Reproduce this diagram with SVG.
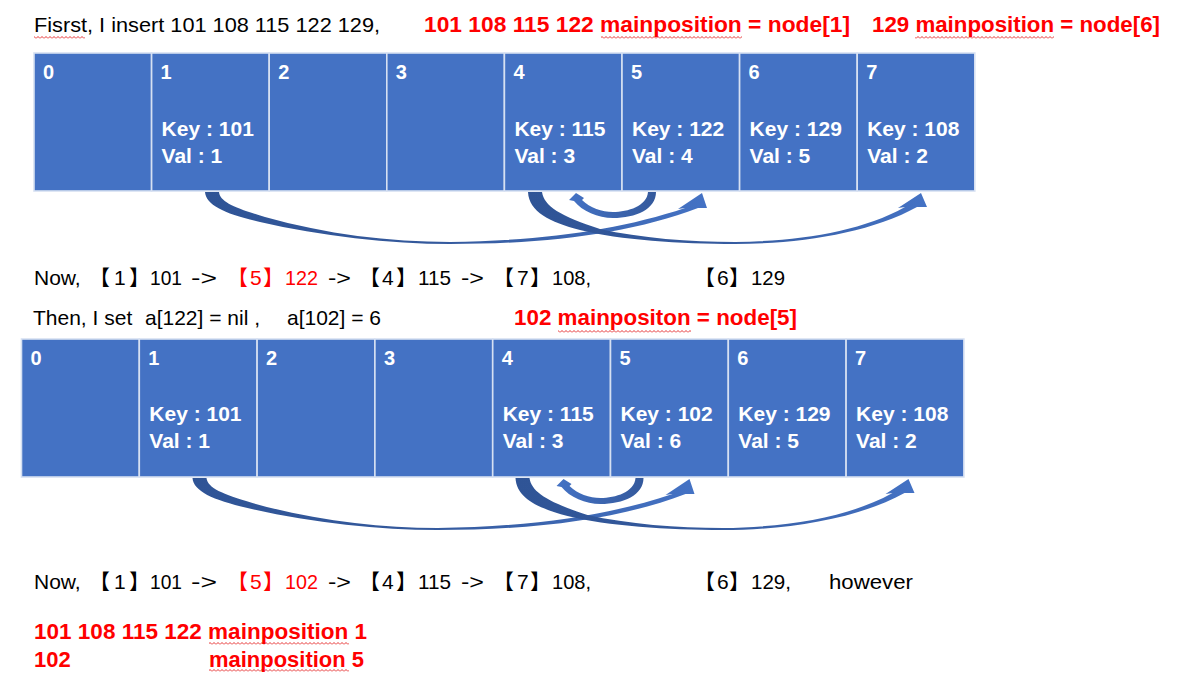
<svg xmlns="http://www.w3.org/2000/svg" width="1185" height="683" viewBox="0 0 1185 683">
<style>
.bg{fill:#ffffff}
.cell{fill:#4472C4;stroke:#D6E0F2;stroke-width:1.6}
.idx{font-family:"Liberation Sans",Arial,sans-serif;font-weight:bold;font-size:20px;fill:#ffffff}
.kv{font-family:"Liberation Sans",Arial,sans-serif;font-weight:bold;font-size:21px;fill:#ffffff}
.t{font-family:"Liberation Sans",Arial,"Noto Sans CJK SC",sans-serif;font-size:21px;fill:#000000}
.r{fill:#FF0000}
.rb{font-family:"Liberation Sans",Arial,sans-serif;font-weight:bold;font-size:22px;fill:#FF0000}
.cjk{font-family:"Noto Sans CJK SC",sans-serif}
.sq{fill:url(#squig)}
</style>
<defs>
<pattern id="squig" x="0" y="0" width="4" height="3" patternUnits="userSpaceOnUse">
<path d="M0,2.5 L2,0.5 L4,2.5" fill="none" stroke="#E00000" stroke-width="0.8"/>
</pattern>
<linearGradient id="gA" gradientUnits="userSpaceOnUse" x1="205" y1="0" x2="705" y2="0">
<stop offset="0" stop-color="#2F5496"/><stop offset="0.45" stop-color="#34599C"/><stop offset="1" stop-color="#4472C4"/>
</linearGradient>
<linearGradient id="gB" gradientUnits="userSpaceOnUse" x1="528" y1="0" x2="925" y2="0">
<stop offset="0" stop-color="#2F5496"/><stop offset="0.45" stop-color="#34599C"/><stop offset="1" stop-color="#4472C4"/>
</linearGradient>
<linearGradient id="gC" gradientUnits="userSpaceOnUse" x1="656" y1="0" x2="570" y2="0">
<stop offset="0" stop-color="#34599C"/><stop offset="1" stop-color="#4472C4"/>
</linearGradient>
<g id="arrowSet">
<path fill="url(#gA)" d="M205,192 L219,192 C220,202 235,208 265,217 C325,234 390,242 450,242 C540,241 620,230 685,208 L678,209 L702,193 L707,208 L698,208 C630,234 545,244 450,244 C390,244 320,236 260,222 C225,214 206,205 205,192 Z"/>
<path fill="url(#gB)" d="M528,192 L542,192 C544,206 560,216 600,229 C640,238 690,242 735,242 C800,241 860,232 905,207 L898,208 L921,193 L927,207 L917,207 C870,233 800,244 735,244 C680,244 620,240 580,230 C550,222 529,212 528,192 Z"/>
<path fill="url(#gC)" d="M656,192 C656,209 636,218 613,218 C598,218 582,211 574,201 L569,200 L576,193 L584,198 L582,200 C590,208 602,212 613,212 C628,212 647,206 648,192 Z"/>
</g>
</defs>
<rect class="bg" x="0" y="0" width="1185" height="683"/>

<!-- Row 1 -->
<g id="row1">
<g id="r1-node0"><rect class="cell" x="34" y="53" width="117.6" height="138"/><text class="idx" x="43" y="79">0</text></g>
<g id="r1-node1"><rect class="cell" x="151.6" y="53" width="117.6" height="138"/><text class="idx" x="160.6" y="79">1</text><text class="kv" x="161.6" y="136">Key : 101</text><text class="kv" x="161.6" y="163">Val : 1</text></g>
<g id="r1-node2"><rect class="cell" x="269.2" y="53" width="117.6" height="138"/><text class="idx" x="278.2" y="79">2</text></g>
<g id="r1-node3"><rect class="cell" x="386.8" y="53" width="117.6" height="138"/><text class="idx" x="395.8" y="79">3</text></g>
<g id="r1-node4"><rect class="cell" x="504.4" y="53" width="117.6" height="138"/><text class="idx" x="513.4" y="79">4</text><text class="kv" x="514.4" y="136">Key : 115</text><text class="kv" x="514.4" y="163">Val : 3</text></g>
<g id="r1-node5"><rect class="cell" x="622" y="53" width="117.6" height="138"/><text class="idx" x="631" y="79">5</text><text class="kv" x="632" y="136">Key : 122</text><text class="kv" x="632" y="163">Val : 4</text></g>
<g id="r1-node6"><rect class="cell" x="739.6" y="53" width="117.6" height="138"/><text class="idx" x="748.6" y="79">6</text><text class="kv" x="749.6" y="136">Key : 129</text><text class="kv" x="749.6" y="163">Val : 5</text></g>
<g id="r1-node7"><rect class="cell" x="857.2" y="53" width="117.6" height="138"/><text class="idx" x="866.2" y="79">7</text><text class="kv" x="867.2" y="136">Key : 108</text><text class="kv" x="867.2" y="163">Val : 2</text></g>
</g>

<!-- Row 2 -->
<g id="row2">
<g id="r2-node0"><rect class="cell" x="21.5" y="339" width="117.8" height="138"/><text class="idx" x="30.5" y="365">0</text></g>
<g id="r2-node1"><rect class="cell" x="139.3" y="339" width="117.8" height="138"/><text class="idx" x="148.3" y="365">1</text><text class="kv" x="149.3" y="421">Key : 101</text><text class="kv" x="149.3" y="448">Val : 1</text></g>
<g id="r2-node2"><rect class="cell" x="257.1" y="339" width="117.8" height="138"/><text class="idx" x="266.1" y="365">2</text></g>
<g id="r2-node3"><rect class="cell" x="374.9" y="339" width="117.8" height="138"/><text class="idx" x="383.9" y="365">3</text></g>
<g id="r2-node4"><rect class="cell" x="492.7" y="339" width="117.8" height="138"/><text class="idx" x="501.7" y="365">4</text><text class="kv" x="502.7" y="421">Key : 115</text><text class="kv" x="502.7" y="448">Val : 3</text></g>
<g id="r2-node5"><rect class="cell" x="610.5" y="339" width="117.8" height="138"/><text class="idx" x="619.5" y="365">5</text><text class="kv" x="620.5" y="421">Key : 102</text><text class="kv" x="620.5" y="448">Val : 6</text></g>
<g id="r2-node6"><rect class="cell" x="728.3" y="339" width="117.8" height="138"/><text class="idx" x="737.3" y="365">6</text><text class="kv" x="738.3" y="421">Key : 129</text><text class="kv" x="738.3" y="448">Val : 5</text></g>
<g id="r2-node7"><rect class="cell" x="846.1" y="339" width="117.8" height="138"/><text class="idx" x="855.1" y="365">7</text><text class="kv" x="856.1" y="421">Key : 108</text><text class="kv" x="856.1" y="448">Val : 2</text></g>
</g>

<!-- Connectors -->
<g id="connectors">
<use href="#arrowSet"/>
<use href="#arrowSet" transform="translate(-12.5,286)"/>
</g>

<!-- Texts -->
<g id="labels">
<text class="t" x="34" y="32" textLength="346" lengthAdjust="spacingAndGlyphs">Fisrst, I insert 101 108 115 122 129,</text>
<text class="rb" x="424" y="32" textLength="426" lengthAdjust="spacingAndGlyphs">101 108 115 122 mainposition = node[1]</text>
<text class="rb" x="872" y="32" textLength="288" lengthAdjust="spacingAndGlyphs">129 mainposition = node[6]</text>

<text class="t" y="285"><tspan x="34">Now,</tspan><tspan class="cjk" x="89">【</tspan><tspan x="114">1</tspan><tspan class="cjk" x="129">】</tspan><tspan x="150" textLength="32" lengthAdjust="spacingAndGlyphs">101</tspan><tspan x="191" textLength="26" lengthAdjust="spacingAndGlyphs">-&gt;</tspan><tspan class="cjk r" x="227">【</tspan><tspan class="r" x="250">5</tspan><tspan class="cjk r" x="263">】</tspan><tspan class="r" x="285" textLength="33" lengthAdjust="spacingAndGlyphs">122</tspan><tspan x="328" textLength="23" lengthAdjust="spacingAndGlyphs">-&gt;</tspan><tspan class="cjk" x="359">【</tspan><tspan x="382">4</tspan><tspan class="cjk" x="396">】</tspan><tspan x="418" textLength="33" lengthAdjust="spacingAndGlyphs">115</tspan><tspan x="461" textLength="23" lengthAdjust="spacingAndGlyphs">-&gt;</tspan><tspan class="cjk" x="493">【</tspan><tspan x="517">7</tspan><tspan class="cjk" x="530">】</tspan><tspan x="552" textLength="39" lengthAdjust="spacingAndGlyphs">108,</tspan><tspan class="cjk" x="694">【</tspan><tspan x="717">6</tspan><tspan class="cjk" x="729">】</tspan><tspan x="751" textLength="34" lengthAdjust="spacingAndGlyphs">129</tspan></text>

<text class="t" y="325"><tspan x="33">Then, I set</tspan><tspan x="145">a[122] = nil ,</tspan><tspan x="287">a[102] = 6</tspan></text>
<text class="rb" x="514" y="325" textLength="283" lengthAdjust="spacingAndGlyphs">102 mainpositon = node[5]</text>

<text class="t" y="589"><tspan x="34">Now,</tspan><tspan class="cjk" x="89">【</tspan><tspan x="114">1</tspan><tspan class="cjk" x="129">】</tspan><tspan x="150" textLength="32" lengthAdjust="spacingAndGlyphs">101</tspan><tspan x="191" textLength="26" lengthAdjust="spacingAndGlyphs">-&gt;</tspan><tspan class="cjk r" x="227">【</tspan><tspan class="r" x="250">5</tspan><tspan class="cjk r" x="263">】</tspan><tspan class="r" x="285" textLength="33" lengthAdjust="spacingAndGlyphs">102</tspan><tspan x="328" textLength="23" lengthAdjust="spacingAndGlyphs">-&gt;</tspan><tspan class="cjk" x="359">【</tspan><tspan x="382">4</tspan><tspan class="cjk" x="396">】</tspan><tspan x="418" textLength="33" lengthAdjust="spacingAndGlyphs">115</tspan><tspan x="461" textLength="23" lengthAdjust="spacingAndGlyphs">-&gt;</tspan><tspan class="cjk" x="493">【</tspan><tspan x="517">7</tspan><tspan class="cjk" x="530">】</tspan><tspan x="552" textLength="39" lengthAdjust="spacingAndGlyphs">108,</tspan><tspan class="cjk" x="694">【</tspan><tspan x="717">6</tspan><tspan class="cjk" x="729">】</tspan><tspan x="751" textLength="40" lengthAdjust="spacingAndGlyphs">129,</tspan><tspan x="829" textLength="84" lengthAdjust="spacingAndGlyphs">however</tspan></text>

<text class="rb" x="34" y="639" textLength="333" lengthAdjust="spacingAndGlyphs">101 108 115 122 mainposition 1</text>
<text class="rb" x="34" y="667">102</text>
<text class="rb" x="209" y="667" textLength="155" lengthAdjust="spacingAndGlyphs">mainposition 5</text>
</g>

<!-- spell-check squiggles -->
<g id="squiggles">
<rect class="sq" x="34" y="36" width="51" height="3"/>
<rect class="sq" x="601" y="36" width="141" height="3"/>
<rect class="sq" x="915" y="36" width="139" height="3"/>
<rect class="sq" x="558" y="330" width="133" height="3"/>
<rect class="sq" x="209" y="642" width="140" height="3"/>
<rect class="sq" x="209" y="669" width="140" height="3"/>
</g>
</svg>
